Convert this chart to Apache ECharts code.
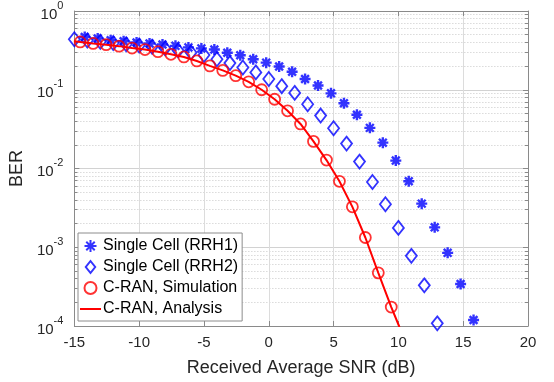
<!DOCTYPE html>
<html>
<head>
<meta charset="utf-8">
<script src="https://cdn.jsdelivr.net/npm/echarts@6/dist/echarts.min.js"></script>
<style>
html,body{margin:0;padding:0;background:#fff;}
#c{width:554px;height:382px;}
</style>
</head>
<body>
<div id="c"></div>
<script>
// ---- data ----
var rrh1X = [-14.2,-13.2,-12.2,-11.2,-10.2,-9.2,-8.2,-7.2,-6.2,-5.2,-4.2,-3.2,-2.2,-1.2,-0.2,0.8,1.8,2.8,3.8,4.8,5.8,6.8,7.8,8.8,9.8,10.8,11.8,12.8,13.8,14.8,15.8];
var rrh1Y = [0.468,0.447,0.425,0.413,0.398,0.387,0.376,0.361,0.345,0.335,0.324,0.295,0.274,0.244,0.221,0.197,0.169,0.137,0.113,0.090,0.0675,0.0481,0.0328,0.0213,0.0126,0.00688,0.00358,0.00179,0.000849,0.000341,0.000119];

var rrh2X = [-15,-14,-13,-12,-11,-10,-9,-8,-7,-6,-5,-4,-3,-2,-1,0,1,2,3,4,5,6,7,8,9,10,11,12,13];
var rrh2Y = [0.438,0.422,0.407,0.392,0.379,0.365,0.351,0.335,0.316,0.297,0.276,0.244,0.218,0.192,0.166,0.137,0.111,0.0912,0.0655,0.0470,0.0324,0.0207,0.01224,0.00674,0.00351,0.00176,0.000778,0.000328,0.000108];

var simX = [-14.55,-13.55,-12.55,-11.55,-10.55,-9.55,-8.55,-7.55,-6.55,-5.55,-4.55,-3.55,-2.55,-1.55,-0.55,0.45,1.45,2.45,3.45,4.45,5.45,6.45,7.45,8.45,9.45];
var simY = [0.405,0.387,0.374,0.358,0.338,0.324,0.304,0.282,0.261,0.232,0.201,0.176,0.151,0.126,0.100,0.0757,0.054,0.0368,0.0221,0.0128,0.00688,0.00326,0.00133,0.000473,0.000174];

var anaX = [-15,-14.55,-13.55,-12.55,-11.55,-10.55,-9.55,-8.55,-7.55,-6.55,-5.55,-4.55,-3.55,-2.55,-1.55,-0.55,0.45,1.45,2.45,3.45,4.45,5.45,6.45,7.45,8.45,9.45,10.05,10.3];
var anaY = [0.412,0.405,0.387,0.374,0.358,0.338,0.324,0.304,0.282,0.261,0.232,0.201,0.176,0.151,0.126,0.100,0.0757,0.054,0.0368,0.0221,0.0128,0.00688,0.00326,0.00133,0.000473,0.000174,0.0001,0.000075];

var xTicks = [-15,-10,-5,0,5,10,15,20];
var yTicks = [0.0001,0.001,0.01,0.1,1];
var yTickExp = ['-4','-3','-2','-1','0'];
var minorMult = [2,3,4,5,6,7,8,9];

var names = ['Single Cell (RRH1)','Single Cell (RRH2)','C-RAN, Simulation','C-RAN, Analysis'];

// ---- build ----
function zip(a,b){var r=[];for(var i=0;i<a.length;i++)r.push([a[i],b[i]]);return r;}
var yMinor = [];
for (var d=0; d<yTicks.length-1; d++) for (var k=0;k<minorMult.length;k++) yMinor.push(+(minorMult[k]*yTicks[d]).toPrecision(3));

var axisCol = '#8a8a8a', txtCol = '#262626', font = 'Liberation Sans, Arial, sans-serif';
var starPath = 'path://M0,-10L0,10M-10,0L10,0M-7.07,-7.07L7.07,7.07M-7.07,7.07L7.07,-7.07';
var diamondPath = 'path://M0,-7L5.5,0L0,7L-5.5,0Z';

var chart = echarts.init(document.getElementById('c'), null, {renderer:'canvas'});
var baseY = {
  type:'log', logBase:10, min:0.0001, max:1, gridIndex:0
};
chart.setOption({
  animation:false,
  backgroundColor:'#fff',
  textStyle:{fontFamily:font},
  grid:{left:69,right:26,top:10,bottom:52,containLabel:false},
  xAxis:[{
    type:'value', min:-15, max:20, interval:5, position:'bottom',
    name:'Received Average SNR (dB)', nameLocation:'middle', nameGap:33,
    nameTextStyle:{fontSize:18,color:txtCol,fontFamily:font},
    axisLine:{onZero:false,lineStyle:{color:axisCol,width:1}},
    axisTick:{inside:true,length:5,lineStyle:{color:axisCol}},
    axisLabel:{fontSize:15,color:txtCol,margin:9,fontFamily:font,customValues:xTicks},
    splitLine:{show:true,lineStyle:{color:'#dcdcdc',width:1}}
  },{
    type:'value', min:-15, max:20, interval:5, position:'top',
    axisLine:{onZero:false,lineStyle:{color:axisCol,width:1}},
    axisTick:{inside:true,length:5,lineStyle:{color:axisCol}},
    axisLabel:{show:false}, splitLine:{show:false}
  }],
  yAxis:[
    Object.assign({}, baseY, {
      position:'left',
      name:'BER', nameLocation:'middle', nameGap:42, nameRotate:90,
      nameTextStyle:{fontSize:18,color:txtCol,fontFamily:font},
      axisLine:{onZero:false,lineStyle:{color:axisCol,width:1}},
      axisTick:{inside:true,length:5,lineStyle:{color:axisCol},customValues:yTicks},
      axisLabel:{margin:11,customValues:yTicks,
        formatter:function(v){
          var i = yTicks.indexOf(v);
          var s = i>=0 ? yTickExp[i] : String(Math.round(Math.log(v)/Math.LN10));
          return '{b|10}{s|'+s+'}';
        },
        rich:{
          b:{fontSize:15,color:txtCol,fontFamily:font,padding:[7,0,0,0]},
          s:{fontSize:11,color:txtCol,fontFamily:font,verticalAlign:'top'}
        }},
      splitLine:{show:true,lineStyle:{color:'#d2d2d2',width:1}}
    }),
    Object.assign({}, baseY, {
      position:'right',
      axisLine:{onZero:false,lineStyle:{color:axisCol,width:1}},
      axisTick:{inside:true,length:5,lineStyle:{color:axisCol},customValues:yTicks},
      axisLabel:{show:false}, splitLine:{show:false}
    }),
    Object.assign({}, baseY, {
      position:'left',
      axisLine:{show:false,onZero:false},
      axisTick:{show:true,inside:true,length:3,lineStyle:{color:axisCol},customValues:yMinor},
      axisLabel:{show:false,customValues:yMinor},
      splitLine:{show:true,lineStyle:{color:'#c8c8c8',width:1,type:[1,2]}}
    }),
    Object.assign({}, baseY, {
      position:'right',
      axisLine:{show:false,onZero:false},
      axisTick:{show:true,inside:true,length:3,lineStyle:{color:axisCol},customValues:yMinor},
      axisLabel:{show:false,customValues:yMinor},
      splitLine:{show:false}
    })
  ],
  legend:{
    orient:'vertical', left:78, top:233,
    backgroundColor:'#fff', borderColor:'#8c8c8c', borderWidth:1, borderRadius:0,
    padding:[5,4,4,1], itemGap:5, itemWidth:21, itemHeight:12,
    textStyle:{fontSize:16,color:'#000',fontFamily:font,padding:[0,0,0,-3]},
    data:names
  },
  series:[
    {name:names[0], type:'scatter', xAxisIndex:0, yAxisIndex:0,
     data:zip(rrh1X,rrh1Y), symbol:starPath, symbolSize:11,
     itemStyle:{color:'#0000ff',borderColor:'#0000ff',borderWidth:2.4}, z:3},
    {name:names[1], type:'scatter', xAxisIndex:0, yAxisIndex:0,
     data:zip(rrh2X,rrh2Y), symbol:diamondPath, symbolSize:14, symbolKeepAspect:true,
     itemStyle:{color:'rgba(0,0,0,0)',borderColor:'#0000ff',borderWidth:1.8}, z:3},
    {name:names[2], type:'scatter', xAxisIndex:0, yAxisIndex:0,
     data:zip(simX,simY), symbol:'circle', symbolSize:11,
     itemStyle:{color:'rgba(0,0,0,0)',borderColor:'#ff0000',borderWidth:1.8}, z:4},
    {name:names[3], type:'line', xAxisIndex:0, yAxisIndex:0,
     data:zip(anaX,anaY), showSymbol:false, symbol:'none', clip:true,
     lineStyle:{color:'#ff0000',width:2}, itemStyle:{color:'rgba(255,0,0,0)',borderWidth:0}, z:4}
  ]
});
</script>
</body>
</html>
